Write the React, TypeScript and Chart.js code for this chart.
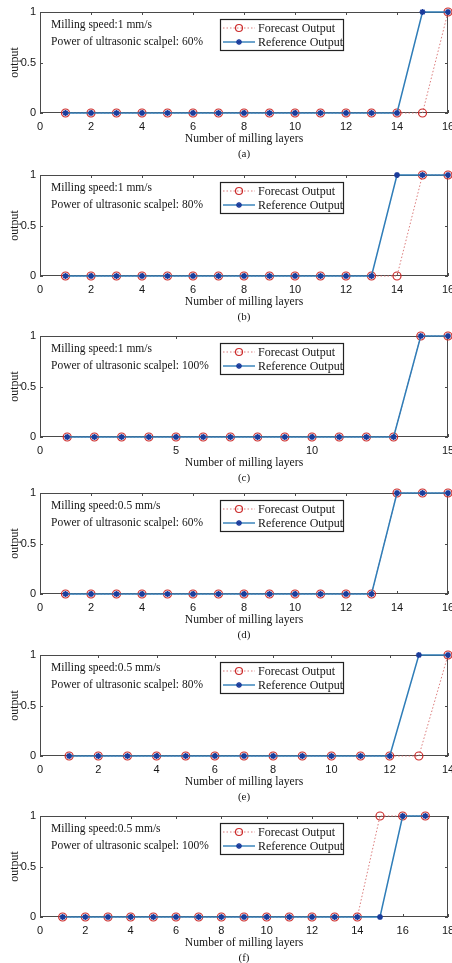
import React, { useEffect, useRef } from "react";
import { Chart, registerables } from "chart.js";

Chart.register(...registerables);

// ---------------- data ----------------
const layersA = [1, 2, 3, 4, 5, 6, 7, 8, 9, 10, 11, 12, 13, 14, 15, 16];
const forecastA = [0, 0, 0, 0, 0, 0, 0, 0, 0, 0, 0, 0, 0, 0, 0, 1];
const referenceA = [0, 0, 0, 0, 0, 0, 0, 0, 0, 0, 0, 0, 0, 0, 1, 1];

const layersB = [1, 2, 3, 4, 5, 6, 7, 8, 9, 10, 11, 12, 13, 14, 15, 16];
const forecastB = [0, 0, 0, 0, 0, 0, 0, 0, 0, 0, 0, 0, 0, 0, 1, 1];
const referenceB = [0, 0, 0, 0, 0, 0, 0, 0, 0, 0, 0, 0, 0, 1, 1, 1];

const layersC = [1, 2, 3, 4, 5, 6, 7, 8, 9, 10, 11, 12, 13, 14, 15];
const forecastC = [0, 0, 0, 0, 0, 0, 0, 0, 0, 0, 0, 0, 0, 1, 1];
const referenceC = [0, 0, 0, 0, 0, 0, 0, 0, 0, 0, 0, 0, 0, 1, 1];

const layersD = [1, 2, 3, 4, 5, 6, 7, 8, 9, 10, 11, 12, 13, 14, 15, 16];
const forecastD = [0, 0, 0, 0, 0, 0, 0, 0, 0, 0, 0, 0, 0, 1, 1, 1];
const referenceD = [0, 0, 0, 0, 0, 0, 0, 0, 0, 0, 0, 0, 0, 1, 1, 1];

const layersE = [1, 2, 3, 4, 5, 6, 7, 8, 9, 10, 11, 12, 13, 14];
const forecastE = [0, 0, 0, 0, 0, 0, 0, 0, 0, 0, 0, 0, 0, 1];
const referenceE = [0, 0, 0, 0, 0, 0, 0, 0, 0, 0, 0, 0, 1, 1];

const layersF = [1, 2, 3, 4, 5, 6, 7, 8, 9, 10, 11, 12, 13, 14, 15, 16, 17];
const forecastF = [0, 0, 0, 0, 0, 0, 0, 0, 0, 0, 0, 0, 0, 0, 1, 1, 1];
const referenceF = [0, 0, 0, 0, 0, 0, 0, 0, 0, 0, 0, 0, 0, 0, 0, 1, 1];

const xMaxes = [16, 16, 15, 16, 14, 18];
const xSteps = [2, 2, 5, 2, 2, 2];
const yTicks = [0, 0.5, 1];
const speeds = ["1 mm/s", "1 mm/s", "1 mm/s", "0.5 mm/s", "0.5 mm/s", "0.5 mm/s"];
const powers = ["60%", "80%", "100%", "60%", "80%", "100%"];
const captions = ["(a)", "(b)", "(c)", "(d)", "(e)", "(f)"];
const legendLabels = ["Forecast Output", "Reference Output"];
const xTitle = "Number of milling layers";
const yTitle = "output";

const layerSets = [layersA, layersB, layersC, layersD, layersE, layersF];
const forecastSets = [forecastA, forecastB, forecastC, forecastD, forecastE, forecastF];
const referenceSets = [referenceA, referenceB, referenceC, referenceD, referenceE, referenceF];

// ---------------- layout / style ----------------
const CANVAS_TOPS = [0, 163, 324, 481, 643, 804];
const CANVAS_H = [160, 160, 160, 160, 160, 159];
const PLOT_TOP = 12;
const PLOT_H = 101;
const PLOT_LEFT = 40;
const PLOT_RIGHT_PAD = 4;
const W = 452;

const SERIF = "'Liberation Serif', 'Times New Roman', serif";
const SANS = "'Liberation Sans', Arial, sans-serif";
const FRAME = "#4a4a4a";
const TEXT = "#161616";
const RED = "#cc2b2b";
const RED_LINE = "rgba(215,110,110,0.9)";
const BLUE_LINE = "#2f7db8";
const BLUE_MARK = "#1b3c9c";

function drawStar(ctx: CanvasRenderingContext2D, x: number, y: number, r: number) {
  ctx.beginPath();
  ctx.moveTo(x - r, y);
  ctx.lineTo(x + r, y);
  ctx.moveTo(x, y - r);
  ctx.lineTo(x, y + r);
  const d = r * 0.7071;
  ctx.moveTo(x - d, y - d);
  ctx.lineTo(x + d, y + d);
  ctx.moveTo(x - d, y + d);
  ctx.lineTo(x + d, y - d);
  ctx.stroke();
}

const framePlugin = {
  id: "frame",
  beforeDatasetsDraw(chart: any) {
    const { ctx, chartArea: a, scales } = chart;
    ctx.save();
    ctx.strokeStyle = FRAME;
    ctx.lineWidth = 1;
    ctx.strokeRect(a.left + 0.5, a.top + 0.5, a.right - a.left - 1, a.bottom - a.top - 1);
    const tl = 3;
    ctx.beginPath();
    for (const t of scales.x.ticks) {
      const px = Math.round(scales.x.getPixelForValue(t.value)) + 0.5;
      ctx.moveTo(px, a.bottom);
      ctx.lineTo(px, a.bottom - tl);
      ctx.moveTo(px, a.top);
      ctx.lineTo(px, a.top + tl);
    }
    for (const t of scales.y.ticks) {
      const py = Math.round(scales.y.getPixelForValue(t.value)) + 0.5;
      ctx.moveTo(a.left, py);
      ctx.lineTo(a.left + tl, py);
      ctx.moveTo(a.right, py);
      ctx.lineTo(a.right - tl, py);
    }
    ctx.stroke();
    ctx.restore();
  },
  afterDraw(chart: any, _args: any, opts: any) {
    const { ctx, chartArea: a } = chart;
    ctx.save();
    ctx.fillStyle = TEXT;
    ctx.textBaseline = "middle";
    // annotation
    ctx.font = `11.5px ${SERIF}`;
    ctx.textAlign = "left";
    ctx.fillText(`Milling speed:${opts.speed}`, a.left + 11, a.top + 13);
    ctx.fillText(`Power of ultrasonic scalpel: ${opts.power}`, a.left + 11, a.top + 29.5);
    // legend box
    const lx = a.left + 180;
    const ly = a.top + 7;
    const lw = 123;
    const lh = 31;
    ctx.fillStyle = "#ffffff";
    ctx.fillRect(lx, ly, lw, lh);
    ctx.strokeStyle = "#222";
    ctx.lineWidth = 1.2;
    ctx.strokeRect(lx + 0.5, ly + 0.5, lw, lh);
    const r1 = ly + 9;
    const r2 = ly + 23;
    // forecast sample
    ctx.strokeStyle = RED_LINE;
    ctx.lineWidth = 1;
    ctx.setLineDash([1.5, 2]);
    ctx.beginPath();
    ctx.moveTo(lx + 3, r1);
    ctx.lineTo(lx + 35, r1);
    ctx.stroke();
    ctx.setLineDash([]);
    ctx.strokeStyle = RED;
    ctx.lineWidth = 1.2;
    ctx.beginPath();
    ctx.arc(lx + 19, r1, 3.5, 0, Math.PI * 2);
    ctx.stroke();
    // reference sample
    ctx.strokeStyle = BLUE_LINE;
    ctx.lineWidth = 1.4;
    ctx.beginPath();
    ctx.moveTo(lx + 3, r2);
    ctx.lineTo(lx + 35, r2);
    ctx.stroke();
    ctx.strokeStyle = BLUE_MARK;
    ctx.lineWidth = 1.4;
    drawStar(ctx, lx + 19, r2, 3);
    ctx.fillStyle = TEXT;
    ctx.font = `12px ${SERIF}`;
    ctx.fillText(legendLabels[0], lx + 38, r1 + 0.5);
    ctx.fillText(legendLabels[1], lx + 38, r2 + 0.5);
    // x title + caption
    ctx.textAlign = "center";
    ctx.font = `11.7px ${SERIF}`;
    const cx = (a.left + a.right) / 2;
    ctx.fillText(xTitle, cx, a.bottom + 25.5);
    ctx.font = `11px ${SERIF}`;
    ctx.fillText(opts.caption, cx, a.bottom + 41);
    ctx.restore();
  },
};

function Panel({ idx }: { idx: number }) {
  const ref = useRef<HTMLCanvasElement | null>(null);
  useEffect(() => {
    const canvas = ref.current;
    if (!canvas) return;
    const xs = layerSets[idx];
    const fc = forecastSets[idx];
    const rf = referenceSets[idx];
    const h = CANVAS_H[idx];
    const chart = new Chart(canvas, {
      type: "line",
      data: {
        datasets: [
          {
            label: legendLabels[1],
            data: xs.map((x, i) => ({ x, y: rf[i] })),
            borderColor: BLUE_LINE,
            borderWidth: 1.5,
            pointStyle: "star",
            pointRadius: 3,
            pointBorderColor: BLUE_MARK,
            pointBackgroundColor: BLUE_MARK,
            pointBorderWidth: 1.5,
            clip: false,
            order: 1,
            tension: 0,
          },
          {
            label: legendLabels[0],
            data: xs.map((x, i) => ({ x, y: fc[i] })),
            borderColor: RED_LINE,
            borderWidth: 1,
            borderDash: [1.5, 2],
            pointStyle: "circle",
            pointRadius: 4,
            pointBorderColor: RED,
            pointBackgroundColor: "rgba(0,0,0,0)",
            pointBorderWidth: 1.2,
            clip: false,
            order: 2,
            tension: 0,
          },
        ],
      },
      options: {
        responsive: false,
        animation: false,
        devicePixelRatio: 1,
        events: [],
        layout: {
          autoPadding: false,
          padding: { left: 0, right: PLOT_RIGHT_PAD, top: PLOT_TOP, bottom: 0 },
        },
        plugins: {
          legend: { display: false },
          tooltip: { enabled: false },
          frame: { speed: speeds[idx], power: powers[idx], caption: captions[idx] },
        } as any,
        scales: {
          x: {
            type: "linear",
            min: 0,
            max: xMaxes[idx],
            grid: { display: false, drawTicks: false },
            border: { display: false },
            ticks: {
              stepSize: xSteps[idx],
              padding: 7,
              color: TEXT,
              font: { family: SANS, size: 11 },
              maxRotation: 0,
              autoSkip: false,
            },
            afterFit: (s: any) => {
              s.height = h - PLOT_TOP - PLOT_H;
              s.paddingLeft = 0;
              s.paddingRight = 0;
              s.paddingTop = 0;
              s.paddingBottom = 0;
            },
          },
          y: {
            type: "linear",
            min: 0,
            max: 1,
            grid: { display: false, drawTicks: false },
            border: { display: false },
            afterBuildTicks: (s: any) => {
              s.ticks = yTicks.map((v) => ({ value: v }));
            },
            ticks: {
              padding: 4,
              color: TEXT,
              font: { family: SANS, size: 11 },
              callback: (v: any) => String(v),
            },
            title: {
              display: true,
              text: yTitle,
              color: TEXT,
              font: { family: SERIF, size: 12 },
              padding: { top: 8, bottom: 0 },
            },
            afterFit: (s: any) => {
              s.width = PLOT_LEFT;
              s.paddingLeft = 0;
              s.paddingRight = 0;
              s.paddingTop = 0;
              s.paddingBottom = 0;
            },
          },
        },
      },
      plugins: [framePlugin],
    } as any);
    return () => chart.destroy();
  }, [idx]);
  return (
    <canvas
      ref={ref}
      width={W}
      height={CANVAS_H[idx]}
      style={{ position: "absolute", left: 0, top: CANVAS_TOPS[idx], width: W, height: CANVAS_H[idx] }}
    />
  );
}

export default function App() {
  return (
    <div
      style={{
        position: "absolute",
        left: 0,
        top: 0,
        width: W,
        height: 963,
        overflow: "hidden",
        background: "#ffffff",
      }}
    >
      {[0, 1, 2, 3, 4, 5].map((i) => (
        <Panel key={i} idx={i} />
      ))}
    </div>
  );
}
